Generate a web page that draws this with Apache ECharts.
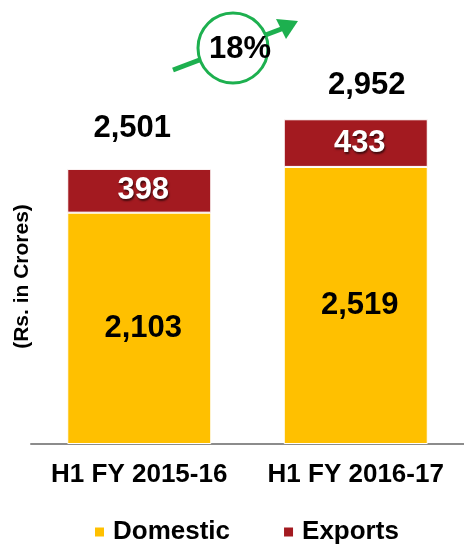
<!DOCTYPE html>
<html>
<head>
<meta charset="utf-8">
<script src="https://cdn.jsdelivr.net/npm/echarts@6/dist/echarts.min.js"></script>
<style>
  html, body { margin: 0; padding: 0; background: #fff; }
  #chart { width: 464px; height: 544px; }
</style>
</head>
<body>
<div id="chart"></div>
<script>
// data
var categories = ['H1 FY 2015-16', 'H1 FY 2016-17'];
var domestic = [2103, 2519];
var exportsVals = [398, 433];
var totals = [2501, 2952];
var growthLabel = '18%';

// total labels sit a little off-centre in the original slide
var totalLabelOffsets = [[-7, 3], [11, 10]];

var FONT = '"Liberation Sans", Arial, sans-serif';

var myChart = echarts.init(document.getElementById('chart'));

function fmt(v) {
  return v.toLocaleString('en-US');
}

var option = {
  backgroundColor: '#ffffff',
  textStyle: { fontFamily: FONT },
  animation: false,
  grid: { left: 31, right: 0, top: 59, bottom: 100 },
  legend: {
    top: 514,
    left: 88,
    itemWidth: 11,
    itemHeight: 11,
    itemGap: 52,
    icon: 'rect',
    data: ['Domestic', 'Exports'],
    textStyle: { fontSize: 26, fontWeight: 'bold', color: '#000', fontFamily: FONT, padding: [0, 0, 0, 3] }
  },
  xAxis: {
    type: 'category',
    data: categories,
    axisLine: { lineStyle: { color: '#8c8c8c', width: 2 } },
    axisTick: { show: false },
    axisLabel: { interval: 0, fontSize: 26, fontWeight: 'bold', color: '#000', margin: 18, fontFamily: FONT }
  },
  yAxis: {
    type: 'value',
    min: 0,
    max: 3500,
    axisLine: { show: false },
    axisTick: { show: false },
    axisLabel: { show: false },
    splitLine: { show: false },
    name: '(Rs. in Crores)',
    nameLocation: 'middle',
    nameRotate: 90,
    nameGap: -2,
    nameTextStyle: { fontSize: 21, fontWeight: 'bold', color: '#000', fontFamily: FONT, padding: [0, 50, 0, 0] }
  },
  series: [
    {
      name: 'Domestic',
      type: 'bar',
      stack: 'total',
      barWidth: 144,
      data: domestic,
      itemStyle: { color: '#FFC000', borderColor: '#ffffff', borderWidth: 1 },
      label: {
        show: true,
        position: 'inside',
        offset: [4, 0],
        formatter: function (p) { return fmt(p.value); },
        fontSize: 31,
        fontWeight: 'bold',
        color: '#000',
        fontFamily: FONT
      }
    },
    {
      name: 'Exports',
      type: 'bar',
      stack: 'total',
      barWidth: 144,
      data: exportsVals,
      itemStyle: { color: '#A31A20', borderColor: '#ffffff', borderWidth: 1 },
      label: {
        show: true,
        position: 'inside',
        offset: [4, 0],
        formatter: function (p) { return fmt(p.value); },
        fontSize: 31,
        fontWeight: 'bold',
        color: '#fff',
        fontFamily: FONT,
        textShadowColor: 'rgba(0,0,0,0.6)',
        textShadowBlur: 2,
        textShadowOffsetX: 1,
        textShadowOffsetY: 2
      }
    },
    {
      // invisible overlay bar that only carries the total label
      name: 'Total',
      type: 'bar',
      barWidth: 144,
      barGap: '-100%',
      data: totals.map(function (v, i) {
        return { value: v, label: { offset: totalLabelOffsets[i] } };
      }),
      itemStyle: { color: 'rgba(0,0,0,0)' },
      silent: true,
      z: 1,
      label: {
        show: true,
        position: 'top',
        distance: 28,
        formatter: function (p) { return fmt(p.value); },
        fontSize: 31,
        fontWeight: 'bold',
        color: '#000',
        fontFamily: FONT
      }
    }
  ],
  graphic: [
    {
      type: 'line',
      shape: { x1: 173, y1: 70, x2: 284, y2: 28 },
      style: { stroke: '#1DB04F', lineWidth: 5 },
      z: 10
    },
    {
      type: 'polygon',
      shape: { points: [[298, 21], [276, 19], [286, 39]] },
      style: { fill: '#1DB04F' },
      z: 10
    },
    {
      type: 'circle',
      shape: { cx: 233, cy: 48, r: 35 },
      style: { fill: '#ffffff', stroke: '#1DB04F', lineWidth: 3 },
      z: 11
    },
    {
      type: 'text',
      x: 240,
      y: 49,
      style: {
        text: growthLabel,
        fontSize: 31,
        fontWeight: 'bold',
        fill: '#000',
        fontFamily: FONT,
        align: 'center',
        verticalAlign: 'middle'
      },
      z: 12
    }
  ]
};

myChart.setOption(option);
</script>
</body>
</html>
